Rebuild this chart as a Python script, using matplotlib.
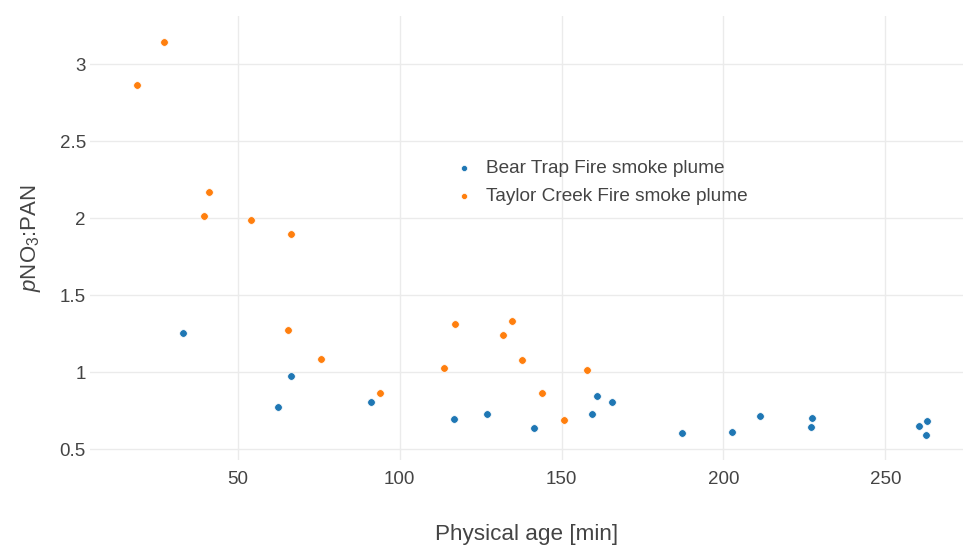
import matplotlib
matplotlib.use("Agg")
import matplotlib.pyplot as plt

plt.rcParams['font.family'] = ['Liberation Sans', 'DejaVu Sans']
plt.rcParams['mathtext.fontset'] = 'custom'
plt.rcParams['mathtext.rm'] = 'Liberation Sans'
plt.rcParams['mathtext.it'] = 'Liberation Sans:italic'

# Bear Trap Fire plume samples: physical age [min] vs pNO3:PAN ratio
bear_age = [33.0, 62.4, 66.5, 91.0, 116.8, 127.1, 141.6, 159.4, 161.1, 165.6,
            187.2, 202.7, 211.3, 226.9, 227.4, 260.5, 262.6, 262.9]
bear_ratio = [1.255, 0.775, 0.976, 0.803, 0.693, 0.729, 0.638, 0.725, 0.844, 0.803,
              0.606, 0.612, 0.714, 0.641, 0.701, 0.649, 0.593, 0.684]

# Taylor Creek Fire plume samples
taylor_age = [18.8, 27.1, 39.5, 41.0, 54.1, 65.5, 66.5, 75.7, 93.8, 113.7,
              117.2, 131.8, 134.7, 137.9, 144.0, 150.8, 157.8]
taylor_ratio = [2.862, 3.143, 2.013, 2.169, 1.985, 1.273, 1.894, 1.087, 0.864, 1.026,
                1.310, 1.238, 1.333, 1.078, 0.864, 0.690, 1.013]

x_ticks = [50, 100, 150, 200, 250]
y_ticks = [0.5, 1, 1.5, 2, 2.5, 3]
y_tick_labels = ['0.5', '1', '1.5', '2', '2.5', '3']

fig = plt.figure(figsize=(9.63, 5.46), dpi=100)
ax = fig.add_axes([90 / 963, 1 - 460 / 546, 873 / 963, 444 / 546])

text_color = '#444444'
blue = '#1f77b4'
orange = '#ff7f0e'

ax.scatter(bear_age, bear_ratio, s=30, color=blue, edgecolors='white',
           linewidths=0.5, zorder=3, label='Bear Trap Fire smoke plume')
ax.scatter(taylor_age, taylor_ratio, s=30, color=orange, edgecolors='white',
           linewidths=0.5, zorder=3, label='Taylor Creek Fire smoke plume')

ax.set_xlim(4.36, 274.0)
ax.set_ylim(0.4286, 3.312)
ax.set_xticks(x_ticks)
ax.set_yticks(y_ticks)
ax.set_yticklabels(y_tick_labels)

ax.grid(True, color='#ebebeb', linewidth=1.0, zorder=0)
ax.set_axisbelow(True)
for sp in ax.spines.values():
    sp.set_visible(False)
ax.tick_params(axis='both', length=0, labelsize=13.5, colors=text_color)
ax.tick_params(axis='x', pad=8)
ax.tick_params(axis='y', pad=3)

ax.set_xlabel('Physical age [min]', fontsize=16.2, color=text_color, labelpad=26)
ax.set_ylabel(r'$p$NO$_3$:PAN', fontsize=16, color=text_color, labelpad=12)

leg = ax.legend(loc='upper left', bbox_to_anchor=((443 - 90) / 873, (460 - 152) / 444),
                frameon=False, fontsize=13.7, markerscale=0.8, handletextpad=0.45,
                handlelength=1.4, labelspacing=0.54, borderaxespad=0)
for t in leg.get_texts():
    t.set_color(text_color)

fig.savefig('out.png', dpi=100, facecolor='white')
